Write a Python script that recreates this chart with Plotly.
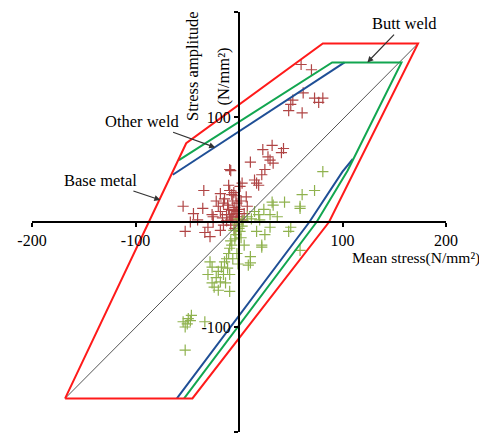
import plotly.graph_objects as go

# Envelope lines (mean stress, stress amplitude)
base_x = [-168, -51, 81, 173, 87, -45, -168]
base_y = [-168, 75, 170, 170, 0, -168, -168]

butt_x = [-58, 90, 157, 105, 75, -53]
butt_y = [59, 152, 152, 49, 0, -168]

other_x = [-64, 102, None, 110, 100, 68, -60]
other_y = [45, 152, None, 60, 48, 0, -168]

diag_x = [-168, 173]
diag_y = [-168, 170]

# Measured points
red_x = [60, 70, 62, 73, 81, 77, 50, 48, 61, 52,
         43, 23, 32, 30, 41, 28, 33, 11, 22, 17, 19, 15, 25,
         -9, -34, -10, 1, -18, -7, 7, -15, -2, -5, -12, -7, -2, -25, -54, -47, -52, -25, -28, -26, -9, -35, 3, -8,
         -4, -6, -3, 0, -10, -14, -18, -20, -1, -8, -12, -16, -3, 2, -9, -22, -5, -11, -2, -6, -15, -18, -30, -33, -40, -44, -8, -4, 5, 8, 3]
red_y = [150, 145, 123, 118, 118, 114, 112, 106, 104, 116,
         70, 69, 73, 59, 66, 62, 56, 57, 45, 37, 35, 40, 50,
         50, 30, 35, 34, 27, 26, 24, 18, 18, 11, 7, 5, 2, 5, 15, 0, -9, 0, -14, 7, 7, 13, 37, 49,
         14, 20, 8, 12, 12, 22, 10, 15, 5, 2, 1, 4, 25, 20, 30, 20, 28, 16, 10, 4, -3, -8, -5, -10, 2, 8, -3, -6, 8, 15, 2]

green_x = [81, 73, 61, 59, 44, 33, 59, 32, 19, 20, 30, 37, 48, 25, 22, 11, 9, 17, 22, 30, 59, 11, 50,
           3, 1, -4, -7, -9, -2, -1, 0, -3, -5, 2, -8, -10, -6, -12, 5, -1, 0, 4, 8, 12, 15, 24,
           -26, -20, -15, -9, -26, -18, -20, -9, -30, -22, -17, -13, -24, -11, -14, -28,
           -49, -54, -46, -52, -33, -52, -50, -47]
green_y = [48, 30, 26, 15, 19, 16, 13, 19, 7, 2, 7, 5, -9, -12, -22, -33, -41, -9, -24, -5, -27, -39, -5,
           -4, -9, -16, -22, -25, -30, -2, -6, -12, -8, -15, -18, -30, -35, -35, -22, -40, 3, 1, 5, 3, 10, 12,
           -43, -47, -50, -50, -58, -57, -65, -66, -50, -53, -43, -58, -62, -44, -38, -38,
           -92, -95, -89, -100, -95, -122, -97, -94]

tick_vals = [-200, -100, 100, 200]
tick_text = ["-200", "-100", "100", "200"]

FONT = "Liberation Serif"

fig = go.Figure()
fig.add_trace(go.Scatter(x=red_x, y=red_y, mode="markers",
                         marker=dict(symbol="cross-thin-open", size=8, color="#b04545",
                                     line=dict(color="#b04545", width=1.2)),
                         showlegend=False))
fig.add_trace(go.Scatter(x=green_x, y=green_y, mode="markers",
                         marker=dict(symbol="cross-thin-open", size=8, color="#8fb24e",
                                     line=dict(color="#8fb24e", width=1.2)),
                         showlegend=False))
fig.add_trace(go.Scatter(x=diag_x, y=diag_y, mode="lines",
                         line=dict(color="#555555", width=1), showlegend=False))
fig.add_trace(go.Scatter(x=other_x, y=other_y, mode="lines",
                         line=dict(color="#1f4f96", width=2), showlegend=False))
fig.add_trace(go.Scatter(x=butt_x, y=butt_y, mode="lines",
                         line=dict(color="#12a650", width=2), showlegend=False))
fig.add_trace(go.Scatter(x=base_x, y=base_y, mode="lines",
                         line=dict(color="#ff1a1a", width=2), showlegend=False))

axis_common = dict(range=[-200, 200], showgrid=False, zeroline=False,
                   showline=True, linecolor="black", linewidth=2,
                   ticks="outside", ticklen=4, tickwidth=1.5, tickcolor="black",
                   tickvals=tick_vals, ticktext=tick_text,
                   tickfont=dict(family=FONT, size=16, color="black"),
                   anchor="free", position=0.5, fixedrange=True)

fig.update_layout(
    width=479, height=428,
    margin=dict(l=24, r=41, t=4, b=4),
    paper_bgcolor="white", plot_bgcolor="white",
    xaxis=dict(**axis_common, side="bottom"),
    yaxis=dict(**axis_common, side="left"),
    font=dict(family=FONT, size=16, color="black"),
)

ann_font = dict(family=FONT, size=16.5, color="black")
fig.add_annotation(x=124, y=152, ax=160, ay=189, axref="x", ayref="y",
                   text="Butt weld", showarrow=True, arrowhead=2, arrowsize=1,
                   arrowwidth=1.2, arrowcolor="#333333", font=ann_font)
fig.add_annotation(x=-23, y=71, ax=-93, ay=96, axref="x", ayref="y",
                   text="Other weld", showarrow=True, arrowhead=2, arrowsize=1,
                   arrowwidth=1.2, arrowcolor="#333333", font=ann_font)
fig.add_annotation(x=-76, y=21, ax=-134, ay=40, axref="x", ayref="y",
                   text="Base metal", showarrow=True, arrowhead=2, arrowsize=1,
                   arrowwidth=1.2, arrowcolor="#333333", font=ann_font)
fig.add_annotation(x=1.088, y=0.414, xref="paper", yref="paper",
                   xanchor="right", yanchor="middle",
                   text="Mean stress(N/mm²)", showarrow=False,
                   font=dict(family=FONT, size=15.5, color="black"))
title_font = dict(family=FONT, size=16.5, color="black")
fig.add_annotation(x=-45, y=149, text="Stress amplitude", textangle=-90,
                   showarrow=False, font=title_font)
fig.add_annotation(x=-15, y=139, text="(N/mm²)", textangle=-90,
                   showarrow=False, font=title_font)

fig.write_html("out.html")
